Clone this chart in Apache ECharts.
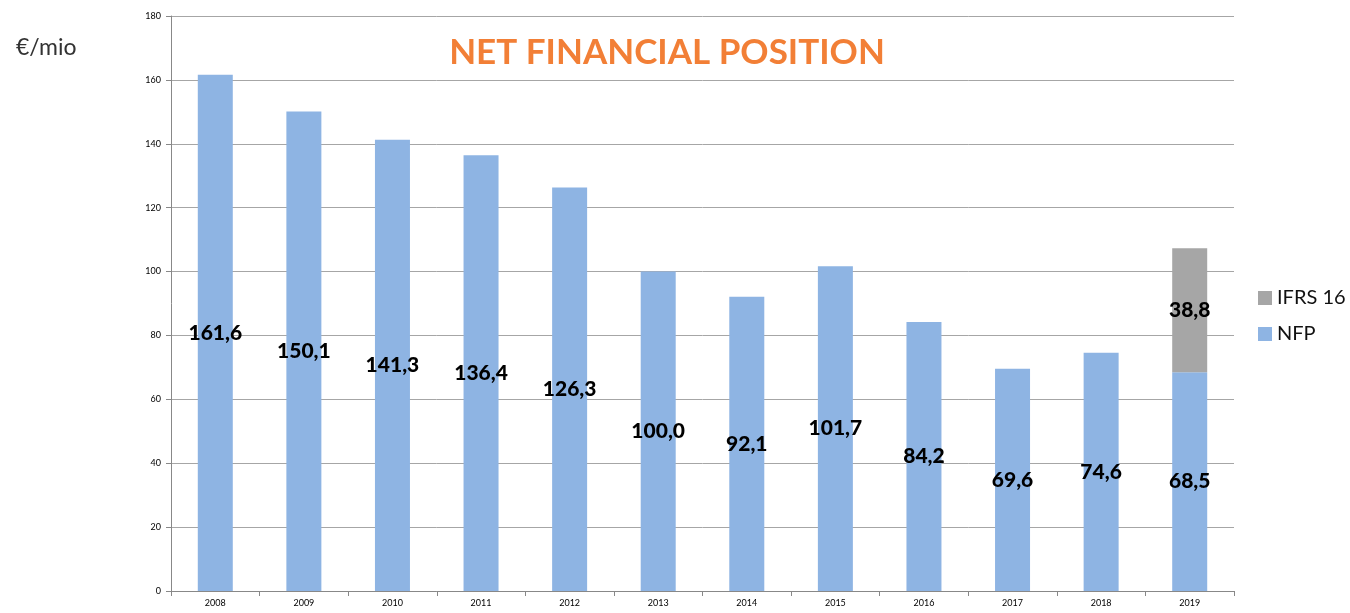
<!DOCTYPE html>
<html><head><meta charset="utf-8">
<script src="https://cdn.jsdelivr.net/npm/echarts@6/dist/echarts.min.js"></script>
<style>html,body{margin:0;padding:0;background:#fff}#c{width:1350px;height:613px}</style>
</head><body><div id="c"></div>
<script>
const years = ['2008','2009','2010','2011','2012','2013','2014','2015','2016','2017','2018','2019'];
const nfp = [161.6,150.1,141.3,136.4,126.3,100.0,92.1,101.7,84.2,69.6,74.6,68.5];
const ifrs16 = [null,null,null,null,null,null,null,null,null,null,null,38.8];
const fmt = v => v.toFixed(1).replace('.', ',');
const chart = echarts.init(document.getElementById('c'));
const lbl = {show:true, position:'inside', fontFamily:'Lato', fontWeight:900, fontSize:21, color:'#000',
  formatter: p => p.value == null ? '' : fmt(p.value)};
chart.setOption({
  animation:false,
  title:[{text:'NET FINANCIAL POSITION', left:662, top:30, textAlign:'center',
    textStyle:{color:'#F27F36', fontFamily:'Lato', fontWeight:'bold', fontSize:35}},
    {text:'€/mio', left:11, top:31, textStyle:{color:'#333', fontFamily:'Lato', fontWeight:'normal', fontSize:23}}],
  legend:{orient:'vertical', left:1253, top:283, itemWidth:14, itemHeight:14, itemGap:16,
    icon:'rect', textStyle:{fontFamily:'Lato', fontSize:20, color:'#111'},
    data:['IFRS 16','NFP']},
  grid:{left:171, right:116, top:16, bottom:22},
  xAxis:{type:'category', data:years,
    axisLine:{lineStyle:{color:'#888'}}, axisTick:{show:true, length:5, lineStyle:{color:'#888'}},
    axisLabel:{fontFamily:'Lato', fontSize:9, color:'#000', margin:8}},
  yAxis:{type:'value', min:0, max:180, interval:20,
    axisLine:{show:true, lineStyle:{color:'#888'}}, axisTick:{show:true, length:5, lineStyle:{color:'#888'}},
    splitLine:{lineStyle:{color:'#a6a6a6'}},
    axisLabel:{fontFamily:'Lato', fontSize:9, color:'#000', margin:10}},
  series:[
    {name:'NFP', type:'bar', stack:'a', data:nfp, barWidth:35, itemStyle:{color:'#8EB4E3'}, label:lbl},
    {name:'IFRS 16', type:'bar', stack:'a', data:ifrs16, barWidth:35, itemStyle:{color:'#A6A6A6'}, label:lbl}
  ]
});
</script></body></html>
